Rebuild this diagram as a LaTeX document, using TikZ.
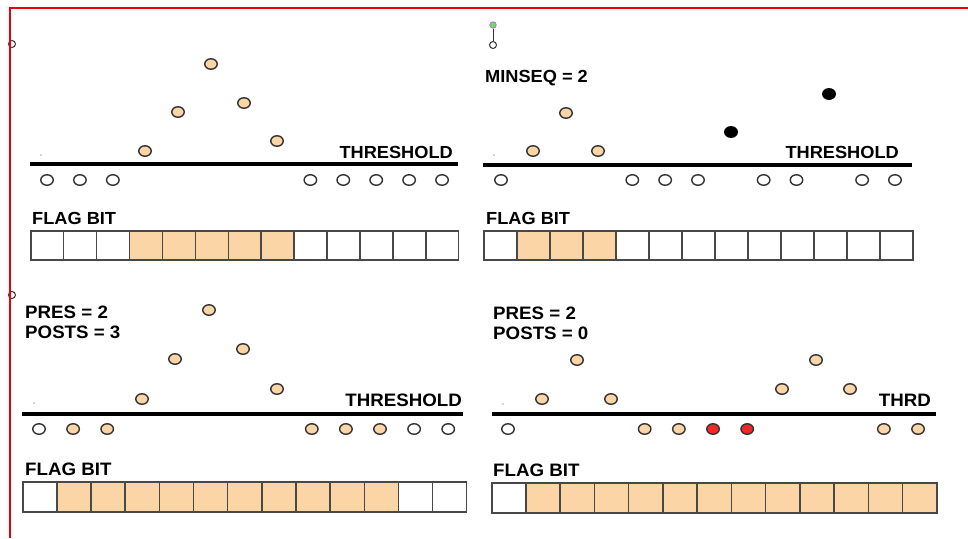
\documentclass[tikz,border=0pt]{standalone}
\usepackage{fontspec}
\setmainfont{Liberation Sans}
\usetikzlibrary{shapes.geometric}
\definecolor{peach}{HTML}{FCD5A6}
\definecolor{dotline}{HTML}{333333}
\definecolor{cellline}{HTML}{484848}
\definecolor{framered}{HTML}{E8000A}
\definecolor{dotred}{HTML}{F02828}
\definecolor{hgreen}{HTML}{66DD66}
\definecolor{hviolet}{HTML}{C070D0}
\tikzset{
  dotbase/.style={ellipse,inner sep=0pt,minimum width=12.5pt,minimum height=10.5pt,draw=dotline,line width=1.4pt},
  odot/.style={dotbase,fill=white},
  pdot/.style={dotbase,fill=peach},
  bdot/.style={dotbase,fill=black,draw=black},
  rdot/.style={dotbase,fill=dotred},
  cellbox/.style={rectangle,inner sep=0pt,draw=cellline,line width=1.5pt,fill=white,anchor=west},
  pcell/.style={cellbox,fill=peach},
  lbl/.style={inner sep=0pt,font=\bfseries\fontsize{17.5}{17.5}\selectfont,xscale=1.04},
  blbl/.style={inner sep=0pt,font=\bfseries\fontsize{18}{18}\selectfont,xscale=1.04},
  thline/.style={line width=4.5pt,black},
  tinydot/.style={circle,fill=gray!70,inner sep=0pt,minimum size=1.6pt},
  smallcirc/.style={circle,draw=dotline,fill=white,line width=1pt,inner sep=0pt,minimum size=7pt},
}
\begin{document}
\begin{tikzpicture}[x=1pt,y=-1pt]
\useasboundingbox (0,0) rectangle (968,538);
\fill[white] (0,0) rectangle (968,538);

% small markers near the frame
\node[smallcirc] (m1) at (12,44) {};
\node[smallcirc] (m3) at (12,295) {};
\node[circle,draw=hviolet,fill=hgreen,line width=0.8pt,inner sep=0pt,minimum size=6.5pt] (hg) at (493,25) {};
\node[smallcirc] (ho) at (493,45) {};
\draw[dotline,line width=1pt] (hg) -- (ho);

% ================= Quadrant 1 =================
\node[tinydot] (t1) at (41,155) {};
\coordinate (l1a) at (30,164); \coordinate (l1b) at (458,164);
\draw[thline] (l1a) -- (l1b);
\node[lbl,anchor=east] (th1) at (453,152) {THRESHOLD};
\foreach \i in {0,1,2,8,9,10,11,12} \node[odot] (q1b\i) at ({47+32.92*\i},180) {};
\node[pdot] (q1u3) at (145,151) {};
\node[pdot] (q1u4) at (178,112) {};
\node[pdot] (q1u5) at (211,64) {};
\node[pdot] (q1u6) at (244,103) {};
\node[pdot] (q1u7) at (277,141) {};
\node[lbl,anchor=west] (fb1) at (32,218) {FLAG BIT};
\foreach \i in {0,...,12}{
  \pgfmathsetmacro{\st}{(\i>=3 && \i<=7) ? "pcell" : "cellbox"}
  \node[\st,minimum width=32.92pt,minimum height=29pt] (q1c\i) at ({30+32.92*\i},245.5) {};
}

% ================= Quadrant 2 =================
\node[lbl,anchor=west] (ms) at (485,78) {MINSEQ = 2};
\node[tinydot] (t2) at (494,155) {};
\coordinate (l2a) at (483,165); \coordinate (l2b) at (912,165);
\draw[thline] (l2a) -- (l2b);
\node[lbl,anchor=east] (th2) at (899,152) {THRESHOLD};
\foreach \i in {0,4,5,6,8,9,11,12} \node[odot] (q2b\i) at ({501+32.83*\i},180) {};
\node[pdot] (q2u1) at (533,151) {};
\node[pdot] (q2u2) at (566,113) {};
\node[pdot] (q2u3) at (598,151) {};
\node[bdot] (q2u7) at (731,132) {};
\node[bdot] (q2u10) at (829,94) {};
\node[lbl,anchor=west] (fb2) at (486,218) {FLAG BIT};
\foreach \i in {0,...,12}{
  \pgfmathsetmacro{\st}{(\i>=1 && \i<=3) ? "pcell" : "cellbox"}
  \node[\st,minimum width=33pt,minimum height=29pt] (q2c\i) at ({483+33*\i},245.5) {};
}

% ================= Quadrant 3 =================
\node[blbl,anchor=west] (pr3) at (25,312) {PRES = 2};
\node[blbl,anchor=west] (po3) at (25,332) {POSTS = 3};
\node[tinydot] (t3) at (34,403) {};
\coordinate (l3a) at (22,414); \coordinate (l3b) at (463,414);
\draw[thline] (l3a) -- (l3b);
\node[blbl,anchor=east] (th3) at (462,400) {THRESHOLD};
\foreach \i in {0,11,12} \node[odot] (q3b\i) at ({39+34.1*\i},429) {};
\foreach \i in {1,2,8,9,10} \node[pdot] (q3b\i) at ({39+34.1*\i},429) {};
\node[pdot] (q3u3) at (142,399) {};
\node[pdot] (q3u4) at (175,359) {};
\node[pdot] (q3u5) at (209,310) {};
\node[pdot] (q3u6) at (243,349) {};
\node[pdot] (q3u7) at (277,389) {};
\node[blbl,anchor=west] (fb3) at (25,469) {FLAG BIT};
\foreach \i in {0,...,12}{
  \pgfmathsetmacro{\st}{(\i>=1 && \i<=10) ? "pcell" : "cellbox"}
  \node[\st,minimum width=34.15pt,minimum height=30pt] (q3c\i) at ({22+34.15*\i},497) {};
}

% ================= Quadrant 4 =================
\node[blbl,anchor=west] (pr4) at (493,313) {PRES = 2};
\node[blbl,anchor=west] (po4) at (493,333) {POSTS = 0};
\node[tinydot] (t4) at (503,404) {};
\coordinate (l4a) at (492,414); \coordinate (l4b) at (936,414);
\draw[thline] (l4a) -- (l4b);
\node[blbl,anchor=east] (th4) at (931,400) {THRD};
\node[odot] (q4b0) at (508,429) {};
\foreach \i in {4,5,11,12} \node[pdot] (q4b\i) at ({508+34.17*\i},429) {};
\foreach \i in {6,7} \node[rdot] (q4b\i) at ({508+34.17*\i},429) {};
\node[pdot] (q4u1) at (542,399) {};
\node[pdot] (q4u2) at (577,360) {};
\node[pdot] (q4u3) at (611,399) {};
\node[pdot] (q4u8) at (782,389) {};
\node[pdot] (q4u9) at (816,360) {};
\node[pdot] (q4u10) at (850,389) {};
\node[blbl,anchor=west] (fb4) at (493,470) {FLAG BIT};
\foreach \i in {0,...,12}{
  \pgfmathsetmacro{\st}{(\i>=1) ? "pcell" : "cellbox"}
  \node[\st,minimum width=34.23pt,minimum height=30pt] (q4c\i) at ({491+34.23*\i},498) {};
}

% frame
\coordinate (fa) at (10,538); \coordinate (fb) at (10,8); \coordinate (fc) at (968,8);
\draw[framered,line width=2pt] (fa) -- (fb) -- (fc);
\end{tikzpicture}
\end{document}
